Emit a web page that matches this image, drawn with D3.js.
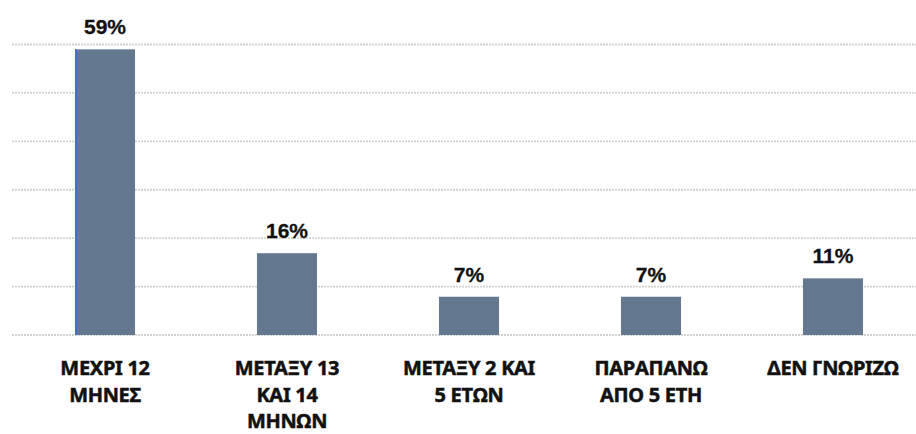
<!DOCTYPE html>
<html>
<head>
<meta charset="utf-8">
<script src="https://cdn.jsdelivr.net/npm/d3@7"></script>
<style>
  html, body { margin: 0; padding: 0; background: #fff; }
  svg { display: block; }
</style>
</head>
<body>
<svg id="chart"></svg>
<script>
// categories, each split into its printed lines
const categories = [
    ['ΜΕΧΡΙ 12', 'ΜΗΝΕΣ'],
    ['ΜΕΤΑΞΥ 13', 'ΚΑΙ 14', 'ΜΗΝΩΝ'],
    ['ΜΕΤΑΞΥ 2 ΚΑΙ', '5 ΕΤΩΝ'],
    ['ΠΑΡΑΠΑΝΩ', 'ΑΠΟ 5 ΕΤΗ'],
    ['ΔΕΝ ΓΝΩΡΙΖΩ']
];
// bar heights (%), and the printed labels
const values = [59, 16.9, 7.9, 7.9, 11.7];
const valueLabels = ['59%', '16%', '7%', '7%', '11%'];
const gridTicks = [0, 10, 20, 30, 40, 50, 60];

const WIDTH = 916;
const HEIGHT = 434;

const svg = d3.select('#chart')
    .attr('width', WIDTH)
    .attr('height', HEIGHT);

const x = d3.scaleBand()
    .domain(d3.range(values.length))
    .range([14, 924])
    .paddingInner(0.67)
    .paddingOuter(0.335);

const y = d3.scaleLinear()
    .domain([0, 60])
    .range([335, 44.5]);

// gridlines
svg.append('g')
    .selectAll('line')
    .data(gridTicks)
    .join('line')
    .attr('x1', 12)
    .attr('x2', WIDTH)
    .attr('y1', d => y(d))
    .attr('y2', d => y(d))
    .attr('stroke', '#d2d2d2')
    .attr('stroke-width', 1.8)
    .attr('stroke-dasharray', '2,1');

// bars
svg.append('g')
    .selectAll('rect')
    .data(values)
    .join('rect')
    .attr('x', (d, i) => x(i))
    .attr('y', d => y(d))
    .attr('width', x.bandwidth())
    .attr('height', d => y(0) - y(d))
    .attr('fill', '#64798f');

// thin blue edge on the first bar
svg.append('rect')
    .attr('x', x(0))
    .attr('y', y(values[0]))
    .attr('width', 2)
    .attr('height', y(0) - y(values[0]))
    .attr('fill', '#4472c4');

// value labels
svg.append('g')
    .selectAll('text')
    .data(values)
    .join('text')
    .attr('x', (d, i) => x(i) + x.bandwidth() / 2)
    .attr('y', d => y(d) - 15)
    .attr('text-anchor', 'middle')
    .attr('font-family', '"Liberation Sans", Arial, sans-serif')
    .attr('font-weight', 'bold')
    .attr('font-size', 21)
    .attr('fill', '#111')
    .attr('stroke', '#111')
    .attr('stroke-width', 0.3)
    .text((d, i) => valueLabels[i]);

// category labels
const cat = svg.append('g')
    .selectAll('text')
    .data(categories)
    .join('text')
    .attr('x', (d, i) => x(i) + x.bandwidth() / 2)
    .attr('y', 375)
    .attr('text-anchor', 'middle')
    .attr('font-family', '"Noto Sans", "DejaVu Sans", sans-serif')
    .attr('font-weight', 700)
    .attr('font-size', 20)
    .attr('fill', '#111')
    .attr('stroke', '#111')
    .attr('stroke-width', 0.5)
    .attr('letter-spacing', -0.3);

cat.selectAll('tspan')
    .data(d => d)
    .join('tspan')
    .attr('x', function () { return d3.select(this.parentNode).attr('x'); })
    .attr('dy', (d, i) => i === 0 ? 0 : 26.5)
    .text(d => d);
</script>
</body>
</html>
